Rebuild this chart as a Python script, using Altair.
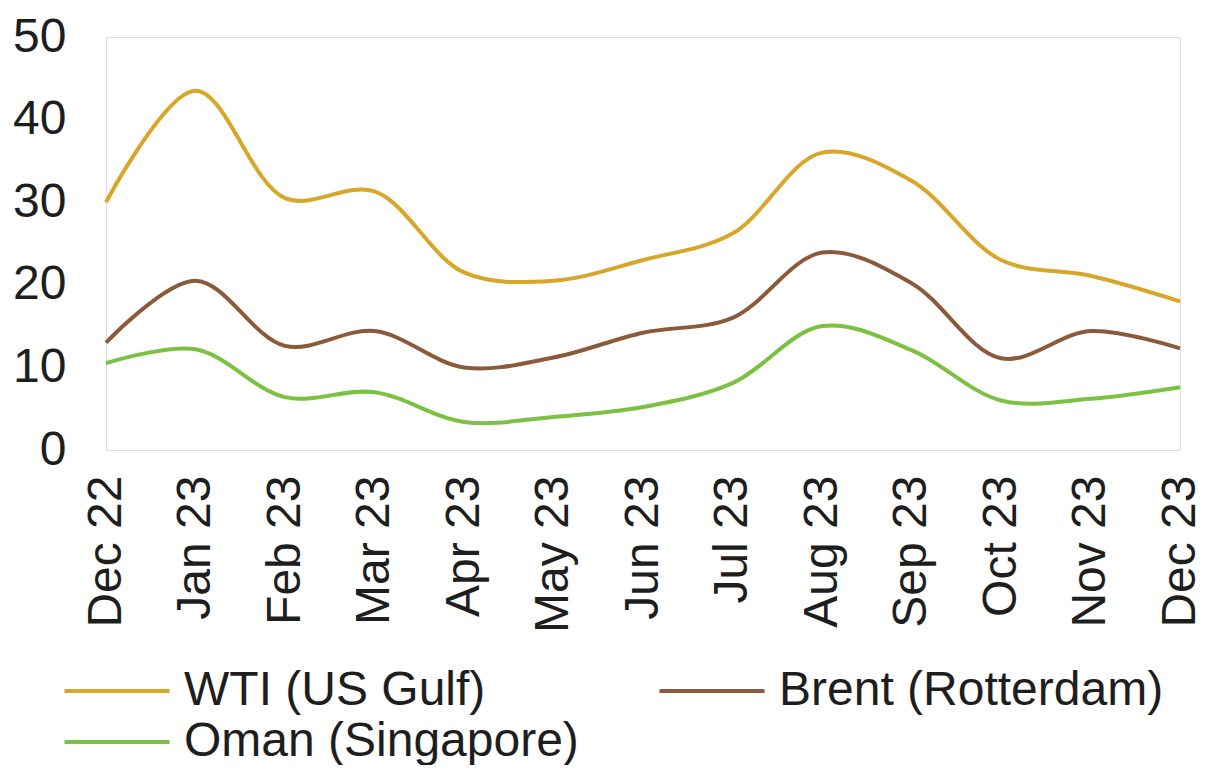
import altair as alt
import pandas as pd

months = ["Dec 22", "Jan 23", "Feb 23", "Mar 23", "Apr 23", "May 23", "Jun 23",
          "Jul 23", "Aug 23", "Sep 23", "Oct 23", "Nov 23", "Dec 23"]
series_names = ["WTI (US Gulf)", "Brent (Rotterdam)", "Oman (Singapore)"]
wti = [30.0, 43.5, 30.5, 31.3, 21.5, 20.5, 23.0, 26.2, 36.0, 32.6, 23.0, 21.1, 18.0]
brent = [13.0, 20.5, 12.6, 14.4, 10.0, 11.2, 14.2, 16.0, 23.9, 20.2, 11.1, 14.4, 12.3]
oman = [10.5, 12.2, 6.4, 7.0, 3.4, 4.0, 5.2, 8.1, 15.0, 12.1, 6.0, 6.2, 7.6]
colors = {"WTI (US Gulf)": "#D8A72A", "Brent (Rotterdam)": "#8A5A3A",
          "Oman (Singapore)": "#7CC142"}
y_ticks = [0, 10, 20, 30, 40, 50]

rows = []
for name, vals in zip(series_names, [wti, brent, oman]):
    for m, v in zip(months, vals):
        rows.append({"month": m, "value": v, "series": name})
df = pd.DataFrame(rows)

# legend is laid out column-major: this order gives row 1 = WTI, Brent; row 2 = Oman
legend_order = ["WTI (US Gulf)", "Oman (Singapore)", "Brent (Rotterdam)"]

FONT = "Liberation Sans"
TXT = "#1e1e1e"

chart = alt.Chart(df).mark_line(strokeWidth=4, interpolate="catmull-rom").encode(
    x=alt.X("month:O", sort=months, scale=alt.Scale(type="point", padding=0),
            axis=alt.Axis(title=None, labelAngle=-90, labelAlign="right",
                          labelBaseline="middle", labelPadding=25, ticks=False,
                          domain=False, labelFontSize=48, labelFont=FONT,
                          labelColor=TXT)),
    y=alt.Y("value:Q", scale=alt.Scale(domain=[0, 50], nice=False),
            axis=alt.Axis(title=None, values=y_ticks, grid=False, ticks=False,
                          domain=False, labelPadding=40, labelFontSize=48,
                          labelFont=FONT, labelColor=TXT)),
    color=alt.Color("series:N",
                    scale=alt.Scale(domain=legend_order,
                                    range=[colors[s] for s in legend_order]),
                    legend=alt.Legend(title=None, orient="none", legendX=-16,
                                      legendY=627, columns=2,
                                      symbolType="M-2.1,0H2.1", symbolSize=2500,
                                      symbolStrokeWidth=4, labelFontSize=48,
                                      labelFont=FONT, labelColor=TXT,
                                      labelOffset=40, columnPadding=72,
                                      rowPadding=0, labelLimit=0, padding=0)),
    detail="series:N",
).properties(
    width=1074, height=413,
    autosize=alt.AutoSizeParams(type="none"),
    padding={"left": 98, "top": 29, "right": 25, "bottom": 315},
).configure_view(stroke="#8c8c8c", strokeWidth=3).configure(background="white")

chart.save("out.html", embed_options={"renderer": "svg", "actions": False})
